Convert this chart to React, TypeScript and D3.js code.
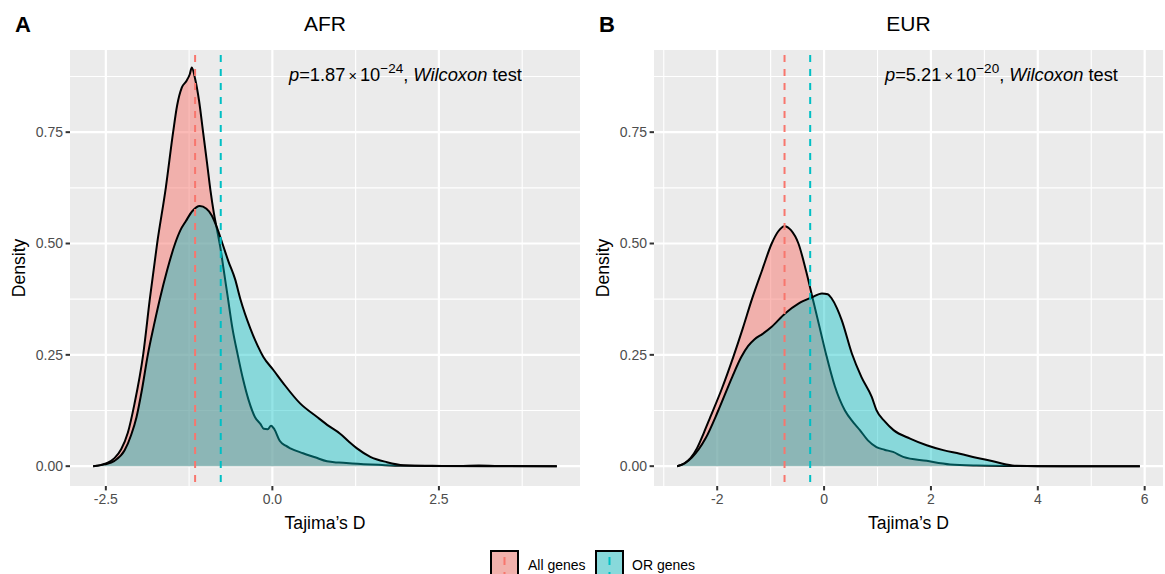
import React from "react";
import * as d3 from "d3";

// ---------- DATA ----------
const groups = ["All genes", "OR genes"];
const groupColors = ["#F8766D", "#00BFC4"];
const groupAlpha = [0.5, 0.42];

// AFR panel
const afrAllX = [-2.69,-2.57,-2.47,-2.37,-2.27,-2.17,-2.07,-1.94,-1.84,-1.73,-1.60,-1.49,-1.43,-1.36,-1.29,-1.24,-1.21,-1.16,-1.10,-1.04,-0.98,-0.93,-0.88,-0.83,-0.78,-0.73,-0.67,-0.60,-0.52,-0.44,-0.36,-0.26,-0.18,-0.13,-0.07,-0.02,0.03,0.11,0.2,0.27,0.46,0.64,0.82,1.0,1.2,1.6,1.95,2.4,2.8,3.1,3.4,4.27];
const afrAllD = [0,0.003,0.008,0.018,0.038,0.075,0.14,0.25,0.375,0.5,0.625,0.75,0.81,0.85,0.865,0.88,0.895,0.87,0.82,0.75,0.68,0.62,0.57,0.53,0.49,0.44,0.38,0.31,0.25,0.195,0.15,0.11,0.095,0.084,0.083,0.091,0.083,0.057,0.046,0.04,0.029,0.02,0.011,0.008,0.006,0.003,0.001,0.0008,0.0005,0.0015,0.0003,0];
const afrOrX = [-2.69,-2.52,-2.37,-2.22,-2.12,-2.04,-1.96,-1.87,-1.78,-1.69,-1.58,-1.46,-1.38,-1.30,-1.20,-1.09,-0.99,-0.91,-0.83,-0.75,-0.66,-0.56,-0.48,-0.33,-0.22,-0.135,0.015,0.165,0.416,0.667,0.85,1.017,1.15,1.27,1.47,1.72,1.97,2.3,4.27];
const afrOrD = [0,0.004,0.012,0.035,0.07,0.11,0.17,0.25,0.315,0.375,0.44,0.5,0.53,0.55,0.573,0.584,0.578,0.563,0.535,0.5,0.46,0.42,0.375,0.309,0.27,0.245,0.216,0.186,0.141,0.111,0.09,0.073,0.055,0.04,0.021,0.009,0.002,0.0003,0];
const afrMeans = [-1.16, -0.775];
const afrTicks = [-2.5, 0, 2.5];
const afrTickLabels = ["-2.5", "0.0", "2.5"];
const afrMinor = [-1.25, 1.25, 3.75];

// EUR panel
const eurAllX = [-2.75,-2.62,-2.5,-2.38,-2.25,-2.13,-1.91,-1.70,-1.52,-1.35,-1.16,-0.98,-0.86,-0.74,-0.62,-0.48,-0.34,-0.21,-0.08,0.04,0.2,0.39,0.55,0.67,0.82,0.98,1.13,1.29,1.48,1.92,2.36,2.85,3.5,4.5,5.91];
const eurAllD = [0,0.006,0.018,0.04,0.075,0.11,0.175,0.245,0.31,0.375,0.44,0.5,0.527,0.539,0.53,0.5,0.44,0.375,0.31,0.25,0.18,0.125,0.098,0.081,0.058,0.043,0.037,0.032,0.021,0.012,0.004,0.0015,0.0005,0,0];
const eurOrX = [-2.75,-2.6,-2.47,-2.22,-1.98,-1.72,-1.55,-1.42,-1.3,-1.15,-0.98,-0.73,-0.48,-0.23,-0.04,0.07,0.14,0.24,0.33,0.52,0.70,0.89,0.98,1.14,1.30,1.61,1.92,2.23,2.54,2.85,3.16,3.41,3.6,4.0,5.91];
const eurOrD = [0,0.007,0.02,0.062,0.125,0.2,0.245,0.27,0.285,0.297,0.313,0.343,0.365,0.379,0.388,0.386,0.377,0.355,0.328,0.253,0.2,0.156,0.126,0.1,0.081,0.062,0.047,0.036,0.028,0.019,0.011,0.004,0.001,0,0];
const eurMeans = [-0.74, -0.26];
const eurTicks = [-2, 0, 2, 4, 6];
const eurTickLabels = ["-2", "0", "2", "4", "6"];
const eurMinor = [-3, -1, 1, 3, 5];

const yTicks = [0, 0.25, 0.5, 0.75];
const yTickLabels = ["0.00", "0.25", "0.50", "0.75"];
const yMinor = [0.125, 0.375, 0.625, 0.875];

const pValues = ["1.87", "5.21"];
const pExps = ["\u221224", "\u221220"];
const annotX = [0.25, 1.14];

// ---------- LAYOUT ----------
const W = 1165;
const H = 574;
const FONT = "'Liberation Sans', Arial, Helvetica, sans-serif";
const PANEL_TOP = 50;
const PANEL_BOTTOM = 486;
const BG = "#EBEBEB";

function mixWithBg(hex: string, a: number) {
  const c = d3.rgb(hex);
  const bg = d3.rgb(BG);
  return d3.rgb(c.r * a + bg.r * (1 - a), c.g * a + bg.g * (1 - a), c.b * a + bg.b * (1 - a)).formatHex();
}

type PanelProps = {
  left: number;
  right: number;
  tag: string;
  title: string;
  series: { x: number[]; d: number[] }[];
  means: number[];
  ticks: number[];
  tickLabels: string[];
  minor: number[];
  pVal: string;
  pExp: string;
  annot: number;
};

function Panel(p: PanelProps) {
  const allX = p.series.flatMap((s) => s.x);
  const lo = d3.min(allX) as number;
  const hi = d3.max(allX) as number;
  const r = hi - lo;
  const x = d3.scaleLinear().domain([lo - 0.05 * r, hi + 0.05 * r]).range([p.left, p.right]);
  const ymax = 0.89;
  const y = d3.scaleLinear().domain([-0.05 * ymax, ymax * 1.05]).range([PANEL_BOTTOM, PANEL_TOP]);

  const area = d3
    .area<[number, number]>()
    .x((v) => x(v[0]))
    .y0(y(0))
    .y1((v) => y(v[1]))
    .curve(d3.curveMonotoneX);
  const line = d3
    .line<[number, number]>()
    .x((v) => x(v[0]))
    .y((v) => y(v[1]))
    .curve(d3.curveMonotoneX);

  const cx = (p.left + p.right) / 2;
  const clipId = "clip-" + p.tag;
  const yMid = (PANEL_TOP + PANEL_BOTTOM) / 2;

  return (
    <g>
      <defs>
        <clipPath id={clipId}>
          <rect x={p.left} y={PANEL_TOP} width={p.right - p.left} height={PANEL_BOTTOM - PANEL_TOP} />
        </clipPath>
      </defs>
      <text x={p.left - 55} y={32} fontSize={22} fontWeight="bold" fontFamily={FONT} fill="#000">
        {p.tag}
      </text>
      <text x={cx} y={31} fontSize={21} textAnchor="middle" fontFamily={FONT} fill="#000">
        {p.title}
      </text>
      <rect x={p.left} y={PANEL_TOP} width={p.right - p.left} height={PANEL_BOTTOM - PANEL_TOP} fill={BG} />
      <g clipPath={`url(#${clipId})`}>
        {yMinor.map((v) => (
          <line key={"ym" + v} x1={p.left} x2={p.right} y1={y(v)} y2={y(v)} stroke="#fff" strokeWidth={1.1} />
        ))}
        {p.minor.map((v) => (
          <line key={"xm" + v} x1={x(v)} x2={x(v)} y1={PANEL_TOP} y2={PANEL_BOTTOM} stroke="#fff" strokeWidth={1.1} />
        ))}
        {yTicks.map((v) => (
          <line key={"yM" + v} x1={p.left} x2={p.right} y1={y(v)} y2={y(v)} stroke="#fff" strokeWidth={2.2} />
        ))}
        {p.ticks.map((v) => (
          <line key={"xM" + v} x1={x(v)} x2={x(v)} y1={PANEL_TOP} y2={PANEL_BOTTOM} stroke="#fff" strokeWidth={2.2} />
        ))}
        {p.series.map((s, i) => {
          const pts = s.x.map((v, j) => [v, s.d[j]] as [number, number]);
          return (
            <g key={"s" + i}>
              <path d={area(pts) || ""} fill={groupColors[i]} fillOpacity={groupAlpha[i]} />
              <path d={line(pts) || ""} fill="none" stroke="#000" strokeWidth={2} />
            </g>
          );
        })}
        {p.means.map((m, i) => (
          <line
            key={"m" + i}
            x1={x(m)}
            x2={x(m)}
            y1={PANEL_TOP}
            y2={PANEL_BOTTOM}
            stroke={groupColors[i]}
            strokeWidth={2}
            strokeDasharray="7,7"
            strokeDashoffset={-5}
          />
        ))}
      </g>
      {/* annotation */}
      <text x={x(p.annot)} y={81} fontSize={18.3} fontFamily={FONT} fill="#000">
        <tspan fontStyle="italic">p</tspan>
        <tspan>{"=" + p.pVal}</tspan>
        <tspan dx={3} fontSize={14.5}>×</tspan>
        <tspan dx={3}>10</tspan>
        <tspan dy={-8} fontSize={13.5}>{p.pExp}</tspan>
        <tspan dy={8}>, </tspan>
        <tspan fontStyle="italic">Wilcoxon</tspan>
        <tspan> test</tspan>
      </text>
      {/* y axis */}
      {yTicks.map((v, i) => (
        <g key={"yt" + v}>
          <line x1={p.left - 4.4} x2={p.left} y1={y(v)} y2={y(v)} stroke="#333" strokeWidth={2} />
          <text x={p.left - 7} y={y(v)} dy="0.35em" textAnchor="end" fontSize={14} fontFamily={FONT} fill="#4D4D4D">
            {yTickLabels[i]}
          </text>
        </g>
      ))}
      {/* x axis */}
      {p.ticks.map((v, i) => (
        <g key={"xt" + v}>
          <line x1={x(v)} x2={x(v)} y1={PANEL_BOTTOM} y2={PANEL_BOTTOM + 4.4} stroke="#333" strokeWidth={2} />
          <text x={x(v)} y={504} textAnchor="middle" fontSize={14} fontFamily={FONT} fill="#4D4D4D">
            {p.tickLabels[i]}
          </text>
        </g>
      ))}
      <text x={cx} y={529} textAnchor="middle" fontSize={17.6} fontFamily={FONT} fill="#000">
        Tajima’s D
      </text>
      <text
        transform={`translate(${p.left - 45},${yMid}) rotate(-90)`}
        textAnchor="middle"
        fontSize={17.6}
        fontFamily={FONT}
        fill="#000"
      >
        Density
      </text>
    </g>
  );
}

function Legend() {
  const keyX = [491, 596];
  const textX = [528, 632];
  const top = 551;
  const size = 27;
  return (
    <g>
      {groups.map((g, i) => (
        <g key={g}>
          <rect
            x={keyX[i]}
            y={top}
            width={size}
            height={size}
            fill={mixWithBg(groupColors[i], groupAlpha[i])}
            stroke="#000"
            strokeWidth={2}
          />
          <line
            x1={keyX[i] + size / 2}
            x2={keyX[i] + size / 2}
            y1={top + 1}
            y2={top + size}
            stroke={groupColors[i]}
            strokeWidth={2}
            strokeDasharray="8,7"
            strokeDashoffset={-5}
          />
          <text x={textX[i]} y={570} fontSize={14} fontFamily={FONT} fill="#000">
            {g}
          </text>
        </g>
      ))}
    </g>
  );
}

export default function App() {
  return (
    <svg
      width={W}
      height={H}
      viewBox={`0 0 ${W} ${H}`}
      style={{ position: "absolute", left: 0, top: 0, display: "block", background: "#fff" }}
    >
      <rect x={0} y={0} width={W} height={H} fill="#fff" />
      <Panel
        left={70}
        right={580}
        tag="A"
        title="AFR"
        series={[
          { x: afrAllX, d: afrAllD },
          { x: afrOrX, d: afrOrD },
        ]}
        means={afrMeans}
        ticks={afrTicks}
        tickLabels={afrTickLabels}
        minor={afrMinor}
        pVal={pValues[0]}
        pExp={pExps[0]}
        annot={annotX[0]}
      />
      <Panel
        left={654}
        right={1163}
        tag="B"
        title="EUR"
        series={[
          { x: eurAllX, d: eurAllD },
          { x: eurOrX, d: eurOrD },
        ]}
        means={eurMeans}
        ticks={eurTicks}
        tickLabels={eurTickLabels}
        minor={eurMinor}
        pVal={pValues[1]}
        pExp={pExps[1]}
        annot={annotX[1]}
      />
      <Legend />
    </svg>
  );
}
